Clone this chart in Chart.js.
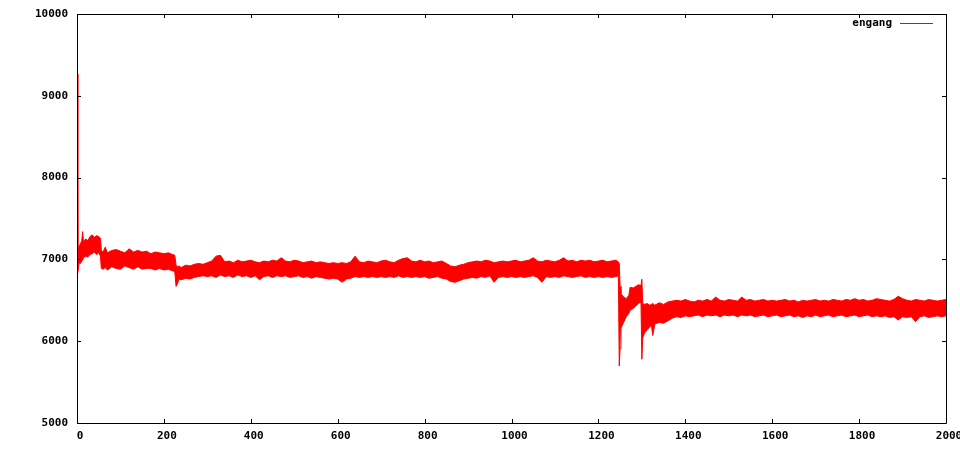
<!DOCTYPE html>
<html>
<head>
<meta charset="utf-8">
<script src="https://cdn.jsdelivr.net/npm/chart.js@4.4.1/dist/chart.umd.min.js"></script>
<style>
  html, body { margin: 0; padding: 0; background: #ffffff; }
  #wrap { width: 960px; height: 450px; }
</style>
</head>
<body>
<div id="wrap"><canvas id="engangChart" width="960" height="450"></canvas></div>
<script>
const xTicks = [0, 200, 400, 600, 800, 1000, 1200, 1400, 1600, 1800, 2000];
const yTicks = [5000, 6000, 7000, 8000, 9000, 10000];
const seriesName = 'engang';

// sample positions along x, with the top and bottom of the noisy band
const steps = [
  0, 2, 5, 8, 11, 13, 15, 20, 25, 30, 35, 40, 45, 50, 54, 56, 60, 65,
  70, 80, 90, 100, 110, 120, 130, 140, 150, 160, 170, 180, 190, 200, 210, 220, 225,
  228, 231, 235, 240, 250, 260, 270, 280, 290,
  300, 310, 320, 330, 340, 350, 360, 370, 380, 390,
  400, 410, 420, 430, 440, 450, 460, 470, 480, 490,
  500, 510, 520, 530, 540, 550, 560, 570, 580, 590,
  600, 610, 620, 630, 640, 650, 660, 670, 680, 690,
  700, 710, 720, 730, 740, 750, 760, 770, 780, 790,
  800, 810, 820, 830, 840, 850, 860, 870, 880, 890,
  900, 910, 920, 930, 940, 950, 960, 970, 980, 990,
  1000, 1010, 1020, 1030, 1040, 1050, 1060, 1070, 1080, 1090,
  1100, 1110, 1120, 1130, 1140, 1150, 1160, 1170, 1180, 1190,
  1200, 1210, 1220, 1230, 1240, 1246, 1248, 1250, 1252, 1258, 1264, 1270,
  1273, 1280, 1286, 1292, 1298, 1300, 1302, 1306, 1312, 1318, 1322, 1325,
  1330, 1340, 1350, 1360, 1370, 1380, 1390,
  1400, 1410, 1420, 1430, 1440, 1450, 1460, 1470, 1480, 1490,
  1500, 1510, 1520, 1530, 1540, 1550, 1560, 1570, 1580, 1590,
  1600, 1610, 1620, 1630, 1640, 1650, 1660, 1670, 1680, 1690,
  1700, 1710, 1720, 1730, 1740, 1750, 1760, 1770, 1780, 1790,
  1800, 1810, 1820, 1830, 1840, 1850, 1860, 1870, 1880, 1890,
  1900, 1910, 1920, 1930, 1940, 1950, 1960, 1970, 1980, 1990, 2000
];

const upper = [
  9267, 7130, 7160, 7190, 7230, 7340, 7220, 7250, 7230, 7280, 7300, 7270, 7290, 7280, 7260, 7110, 7090, 7150,
  7080, 7110, 7120, 7100, 7080, 7130, 7090, 7110, 7090, 7100, 7070, 7090, 7080, 7070, 7080, 7060, 7050,
  6930, 6910, 6920, 6900, 6930, 6920, 6940, 6950, 6940,
  6960, 6980, 7040, 7050, 6970, 6980, 6960, 6990, 6970, 6980,
  6990, 6970, 6960, 6980, 6970, 6990, 6980, 7020, 6980, 6970,
  6990, 6980, 6960, 6970, 6980, 6960, 6970, 6960, 6950, 6960,
  6950, 6960, 6950, 6970, 7040, 6970, 6960, 6980, 6970, 6960,
  6980, 6990, 6970, 6960, 6990, 7010, 7020, 6980, 6970, 6990,
  6970, 6980, 6960, 6970, 6980, 6950, 6920, 6910, 6930, 6940,
  6960, 6970, 6980, 6970, 6990, 6980, 6960, 6970, 6980, 6970,
  6980, 6990, 6970, 6980, 6990, 7020, 6980, 6970, 6990, 6980,
  6970, 6990, 7020, 6980, 6990, 6970, 6990, 6980, 6990, 6970,
  6980, 6990, 6970, 6980, 6990, 6970, 6950, 6670, 6580, 6540, 6520, 6560,
  6660, 6650, 6670, 6690, 6680, 6757, 6460, 6450, 6460, 6440, 6450, 6460,
  6440, 6470, 6450, 6480, 6490, 6500, 6490,
  6510, 6490, 6480, 6500, 6490, 6510, 6490, 6540, 6500, 6490,
  6510, 6500, 6490, 6540, 6500, 6510, 6490, 6500, 6510, 6490,
  6500, 6490, 6500, 6510, 6490, 6500, 6480, 6500, 6490, 6500,
  6510, 6490, 6500, 6490, 6510, 6500, 6490, 6510, 6500, 6520,
  6500, 6510, 6490, 6500, 6520, 6510, 6500, 6490, 6510, 6550,
  6520, 6500, 6490, 6510, 6500, 6490, 6510, 6500, 6490, 6500, 6510
];

const lower = [
  6834, 6840, 6960, 6950, 6980, 6990, 7020, 7040, 7030, 7060, 7070, 7090, 7060, 7080, 7040, 6890, 6880, 6900,
  6870, 6910, 6890, 6880, 6920, 6900, 6880, 6910, 6880, 6890, 6890, 6870, 6890, 6870, 6880, 6860, 6850,
  6670, 6700, 6760, 6750, 6770, 6760, 6780, 6790, 6800,
  6790, 6800, 6780, 6810, 6790, 6800, 6780, 6810, 6790, 6800,
  6780, 6800, 6750, 6790, 6800, 6780, 6800, 6790, 6800, 6780,
  6790, 6800, 6780, 6790, 6770, 6790, 6780, 6770, 6760, 6770,
  6760, 6720, 6760, 6770, 6790, 6780, 6790, 6780, 6790, 6780,
  6790, 6780, 6790, 6780, 6800, 6780, 6790, 6780, 6790, 6780,
  6790, 6770, 6780, 6790, 6770, 6760, 6730, 6720, 6740, 6760,
  6770, 6780, 6770, 6790, 6780, 6800, 6720, 6780, 6790, 6780,
  6790, 6780, 6790, 6780, 6790, 6800, 6780, 6720, 6790, 6780,
  6790, 6780, 6800, 6790, 6780, 6790, 6800, 6780, 6790, 6780,
  6790, 6780, 6790, 6780, 6790, 6800, 5697, 5917, 6160, 6230, 6300, 6340,
  6380, 6400, 6430, 6460, 6480, 5779, 6040, 6100, 6140, 6170, 6200, 6070,
  6210, 6230, 6220, 6250, 6280, 6300, 6290,
  6310, 6300, 6310, 6320, 6300, 6320, 6310, 6320, 6300, 6320,
  6310, 6320, 6300, 6320, 6310, 6320, 6300, 6310, 6320, 6300,
  6310, 6320, 6300, 6310, 6320, 6300, 6310, 6290, 6310, 6300,
  6320, 6300, 6310, 6320, 6300, 6310, 6320, 6300, 6310, 6320,
  6300, 6310, 6320, 6300, 6310, 6300, 6310, 6290, 6300, 6260,
  6300, 6290, 6300, 6240, 6300, 6310, 6290, 6300, 6310, 6300, 6310
];

const tickFont = { family: 'DejaVu Sans Mono', size: 11, weight: 'bold' };

// gnuplot style: plain border with short inward ticks on all four sides
const framePlugin = {
  id: 'frame',
  afterDraw(chart) {
    const { ctx, chartArea: a, scales } = chart;
    const len = 4;
    ctx.save();
    ctx.strokeStyle = '#000000';
    ctx.lineWidth = 1;
    ctx.beginPath();
    ctx.rect(Math.round(a.left) + 0.5, Math.round(a.top) + 0.5,
      Math.round(a.right - a.left), Math.round(a.bottom - a.top));
    scales.x.ticks.forEach(t => {
      const px = Math.round(scales.x.getPixelForValue(t.value)) + 0.5;
      ctx.moveTo(px, a.bottom); ctx.lineTo(px, a.bottom - len);
      ctx.moveTo(px, a.top); ctx.lineTo(px, a.top + len);
    });
    scales.y.ticks.forEach(t => {
      const py = Math.round(scales.y.getPixelForValue(t.value)) + 0.5;
      ctx.moveTo(a.left, py); ctx.lineTo(a.left + len, py);
      ctx.moveTo(a.right, py); ctx.lineTo(a.right - len, py);
    });
    ctx.stroke();
    ctx.restore();
  }
};

// key in the top right corner, text first then the line sample
const keyPlugin = {
  id: 'key',
  afterDraw(chart) {
    const { ctx, chartArea: a } = chart;
    const ds = chart.data.datasets[0];
    const y = a.top + 9.5;
    const lineEnd = a.right - 13;
    const lineStart = lineEnd - 33;
    ctx.save();
    ctx.font = `bold ${tickFont.size}px "${tickFont.family}"`;
    ctx.fillStyle = '#000000';
    ctx.textAlign = 'right';
    ctx.textBaseline = 'middle';
    ctx.fillText(ds.label, lineStart - 8, y);
    ctx.strokeStyle = ds.borderColor;
    ctx.lineWidth = 1;
    ctx.beginPath();
    ctx.moveTo(lineStart, y);
    ctx.lineTo(lineEnd, y);
    ctx.stroke();
    ctx.restore();
  }
};

function initEngangChart() {
  const ctx = document.getElementById('engangChart').getContext('2d');

  new Chart(ctx, {
    type: 'line',
    data: {
      datasets: [{
        label: seriesName,
        data: steps.map((x, i) => ({ x, y: upper[i] })),
        borderColor: '#ff0000',
        backgroundColor: '#ff0000',
        borderWidth: 1,
        pointRadius: 0,
        tension: 0,
        fill: '+1'
      }, {
        label: seriesName + ' low',
        data: steps.map((x, i) => ({ x, y: lower[i] })),
        borderColor: '#ff0000',
        borderWidth: 1,
        pointRadius: 0,
        tension: 0,
        fill: false
      }]
    },
    options: {
      responsive: false,
      maintainAspectRatio: false,
      devicePixelRatio: 1,
      animation: false,
      layout: { padding: { top: 14, right: 14, left: 0, bottom: 0 } },
      plugins: {
        legend: { display: false },
        tooltip: { enabled: false }
      },
      scales: {
        x: {
          type: 'linear',
          min: xTicks[0],
          max: xTicks[xTicks.length - 1],
          afterBuildTicks: s => { s.ticks = xTicks.map(v => ({ value: v })); },
          afterFit: s => { s.height = 27; s.paddingLeft = 0; s.paddingRight = 0; },
          grid: { display: false, drawTicks: false },
          border: { display: false },
          ticks: {
            color: '#000000',
            font: tickFont,
            padding: 7,
            labelOffset: 3,
            maxRotation: 0,
            autoSkip: false,
            callback: v => String(v)
          }
        },
        y: {
          type: 'linear',
          min: yTicks[0],
          max: yTicks[yTicks.length - 1],
          afterBuildTicks: s => { s.ticks = yTicks.map(v => ({ value: v })); },
          afterFit: s => { s.width = 77; s.paddingTop = 0; s.paddingBottom = 0; },
          grid: { display: false, drawTicks: false },
          border: { display: false },
          ticks: {
            color: '#000000',
            font: tickFont,
            padding: 9,
            autoSkip: false,
            callback: v => String(v)
          }
        }
      }
    },
    plugins: [framePlugin, keyPlugin]
  });
}

document.addEventListener('DOMContentLoaded', initEngangChart);
</script>
</body>
</html>
